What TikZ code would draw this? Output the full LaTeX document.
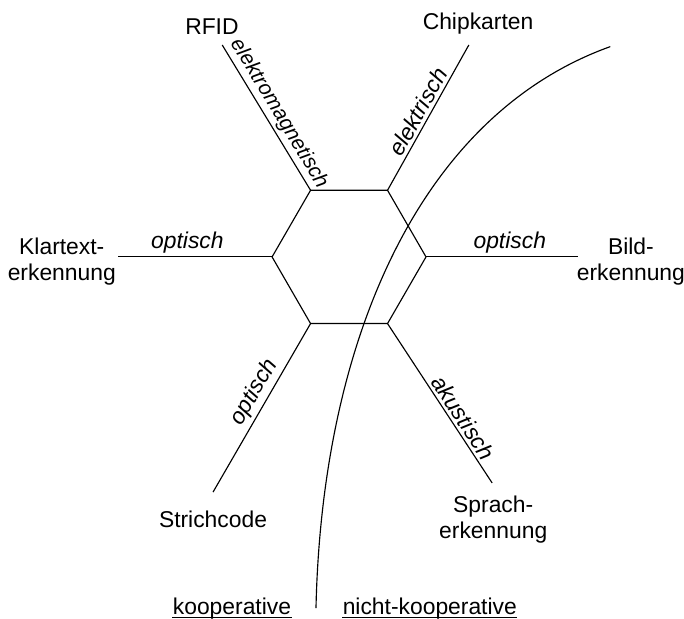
\documentclass[tikz,border=0pt]{standalone}
\usepackage{fontspec}
\setmainfont{Liberation Sans}

\begin{document}
\fontsize{12}{13.5}\selectfont%
\begin{tikzpicture}[line width = 0.6pt,
	medium/.style = {font = \itshape, sloped, above, inner sep = 1.5pt},
	verfahren/.style = {align = center},
	seite/.style = {anchor = base, inner sep = 0pt}]

	\useasboundingbox (-6.44, -6.68) rectangle (6.18, 4.74);

	% Hexagon

	\foreach \w [count = \i] in {0, 60, ..., 300}
		\coordinate (h\i) at (\w:1.42);
	\draw (h1) -- (h2) -- (h3) -- (h4) -- (h5) -- (h6) -- cycle;

	% Verfahren

	\node [verfahren] (rfid) at (-2.53, 4.25) {RFID};
	\node [verfahren] (chip) at (2.38, 4.30) {Chipkarten};
	\node [verfahren] (klar) at (-5.30, -0.08) {Klartext-\\erkennung};
	\node [verfahren] (bild) at (5.20, -0.08) {Bild-\\erkennung};
	\node [verfahren] (strich) at (-2.51, -4.84) {Strichcode};
	\node [verfahren] (sprach) at (2.66, -4.85) {Sprach-\\erkennung};

	% Speichen mit Medium

	\coordinate (rfid-end) at (-2.34, 3.91);
	\coordinate (chip-end) at (2.21, 3.91);
	\coordinate (klar-end) at (-4.26, 0);
	\coordinate (bild-end) at (4.23, 0);
	\coordinate (strich-end) at (-2.51, -4.34);
	\coordinate (sprach-end) at (2.64, -4.17);

	\draw (rfid-end) -- node [medium, font = \itshape\fontsize{11}{13}\selectfont, pos = 0.52] {elektromagnetisch} (h3);
	\draw (h2) -- node [medium] {elektrisch} (chip-end);
	\draw (klar-end) -- node [medium, pos = 0.45] {optisch} (h4);
	\draw (h1) -- node [medium, pos = 0.55] {optisch} (bild-end);
	\draw (strich-end) -- node [medium, pos = 0.55] {optisch} (h5);
	\draw (h6) -- node [medium, pos = 0.63] {akustisch} (sprach-end);

	% Grenze kooperativ / nicht-kooperativ

	\coordinate (unten) at (-0.61, -6.48);
	\coordinate (oben) at (4.82, 3.88);
	\draw (unten) .. controls (-0.50, -1.53) and (1.31, 2.62) .. (oben);

	\node [seite] (koop) at (-2.16, -6.59) {kooperative};
	\node [seite] (nkoop) at (1.49, -6.59) {nicht-kooperative};
	\draw [line width = 0.8pt] ([yshift = -1.7pt] koop.base west) -- ([yshift = -1.7pt] koop.base east);
	\draw [line width = 0.8pt] ([yshift = -1.7pt] nkoop.base west) -- ([yshift = -1.7pt] nkoop.base east);

\end{tikzpicture}
\end{document}
